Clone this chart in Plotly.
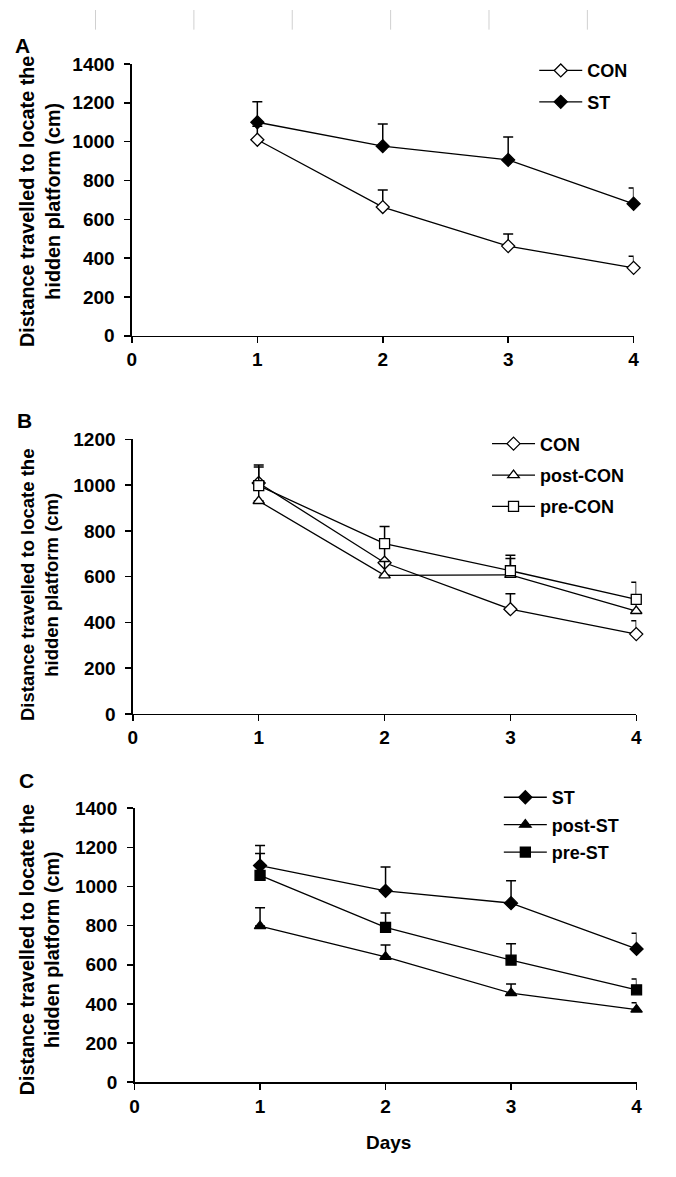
import plotly.graph_objects as go

W, H = 676, 1177

days = [1, 2, 3, 4]
x_ticks = [0, 1, 2, 3, 4]

# Panel A
a_con = [1010, 663, 462, 350]
a_con_err = [70, 88, 62, 60]
a_st = [1100, 977, 906, 680]
a_st_err = [106, 114, 118, 81]

# Panel B
b_con = [1010, 661, 458, 349]
b_con_err = [70, 80, 68, 58]
b_post_con = [931, 606, 608, 450]
b_post_con_err = [50, 60, 72, 55]
b_pre_con = [998, 745, 626, 501]
b_pre_con_err = [90, 75, 68, 75]

# Panel C
c_st = [1107, 978, 915, 681]
c_st_err = [102, 121, 114, 80]
c_post_st = [798, 641, 455, 371]
c_post_st_err = [94, 60, 47, 35]
c_pre_st = [1057, 791, 624, 472]
c_pre_st_err = [111, 74, 83, 55]

y_title = "Distance travelled to locate the<br>hidden platform (cm)"
FONT = "Liberation Sans, Arial, sans-serif"


def px_x(p):
    return p / W


def px_y(p):
    return 1 - p / H


fig = go.Figure()


def add(name, y, err, xa, ya, symbol, filled, legend, group):
    fig.add_trace(go.Scatter(
        x=days, y=y, name=name, mode="lines+markers",
        xaxis=xa, yaxis=ya, legend=legend, legendgroup=group,
        line=dict(color="black", width=1.3),
        marker=dict(symbol=symbol, size=10,
                    color="black" if filled else "white",
                    line=dict(color="black", width=1.3)),
        error_y=dict(type="data", symmetric=False, array=err,
                     arrayminus=[0] * len(err), color="black",
                     thickness=1.5, width=5),
        cliponaxis=False,
    ))


add("CON", a_con, a_con_err, "x", "y", "diamond", False, "legend", "a1")
add("ST", a_st, a_st_err, "x", "y", "diamond", True, "legend", "a2")
add("CON", b_con, b_con_err, "x2", "y2", "diamond", False, "legend2", "b1")
add("post-CON", b_post_con, b_post_con_err, "x2", "y2", "triangle-up", False, "legend2", "b2")
add("pre-CON", b_pre_con, b_pre_con_err, "x2", "y2", "square", False, "legend2", "b3")
add("ST", c_st, c_st_err, "x3", "y3", "diamond", True, "legend3", "c1")
add("post-ST", c_post_st, c_post_st_err, "x3", "y3", "triangle-up", True, "legend3", "c2")
add("pre-ST", c_pre_st, c_pre_st_err, "x3", "y3", "square", True, "legend3", "c3")

tickfont = dict(family=FONT, size=19, color="black", weight="bold")


def xax(dom, anchor):
    return dict(domain=dom, anchor=anchor, range=[0, 4], tickvals=x_ticks,
                showline=True, linecolor="black", linewidth=1.5,
                ticks="outside", ticklen=6, tickwidth=1.5, tickcolor="black",
                showgrid=False, zeroline=False, tickfont=tickfont,
                ticklabelstandoff=0, fixedrange=True)


def yax(dom, anchor, top):
    return dict(domain=dom, anchor=anchor, range=[0, top], dtick=200,
                showline=True, linecolor="black", linewidth=1.5,
                ticks="outside", ticklen=6, tickwidth=1.5, tickcolor="black",
                showgrid=False, zeroline=False, tickfont=tickfont,
                ticklabelstandoff=6, fixedrange=True)


legfont = dict(family=FONT, size=18, color="black", weight="bold")


def leg(x, y, gap):
    return dict(x=x, y=y, xanchor="left", yanchor="top", font=legfont,
                bgcolor="rgba(0,0,0,0)", tracegroupgap=gap, itemwidth=43,
                itemclick=False, itemdoubleclick=False)


fig.update_layout(
    width=W, height=H, autosize=False,
    margin=dict(l=0, r=0, t=0, b=0),
    paper_bgcolor="white", plot_bgcolor="white",
    font=dict(family=FONT, color="black"),
    xaxis=xax([px_x(129), px_x(639)], "y"),
    yaxis=yax([px_y(331.7), px_y(55)], "x", 1400),
    xaxis2=xax([px_x(130), px_x(641.7)], "y2"),
    yaxis2=yax([px_y(716.7), px_y(437.3)], "x2", 1200),
    xaxis3=xax([px_x(131.7), px_x(642)], "y3"),
    yaxis3=yax([px_y(1091.7), px_y(812.7)], "x3", 1400),
    legend=leg(px_x(538), px_y(43), 5),
    legend2=leg(px_x(490), px_y(423), 5),
    legend3=leg(px_x(502), px_y(783), 1),
)

annots = [
    dict(text="A", x=px_x(18), y=px_y(36), size=21),
    dict(text="B", x=px_x(20), y=px_y(418), size=21),
    dict(text="C", x=px_x(22), y=px_y(784), size=21),
    dict(text="Days", x=px_x(390), y=px_y(1153), size=19),
]
for a in annots:
    fig.add_annotation(text=a["text"], x=a["x"], y=a["y"], xref="paper", yref="paper",
                       xanchor="center", yanchor="middle", showarrow=False,
                       font=dict(family=FONT, size=a["size"], color="black", weight="bold"))

for yc, sz in [(195, 19.8), (585, 18.5), (957, 19.8)]:
    fig.add_annotation(text=y_title, x=px_x(35), y=px_y(yc), xref="paper", yref="paper",
                       xanchor="center", yanchor="middle", showarrow=False, textangle=-90,
                       font=dict(family=FONT, size=sz, color="black", weight="bold"))

for xv in [92, 192, 292, 392, 492, 592]:
    fig.add_shape(type="line", xref="paper", yref="paper",
                  x0=px_x(xv), x1=px_x(xv), y0=1, y1=px_y(20),
                  line=dict(color="#d0d0d0", width=1))

fig.write_html(
    "out.html",
    config={"displayModeBar": False, "staticPlot": True},
    post_script=(
        "document.documentElement.style.margin='0';"
        "document.documentElement.style.overflow='hidden';"
        "document.body.style.margin='0';document.body.style.padding='0';"
        "document.body.style.overflow='hidden';"
        "var d=document.getElementById('{plot_id}');"
        "d.style.position='fixed';d.style.left='0px';d.style.top='0px';"
    ),
)
